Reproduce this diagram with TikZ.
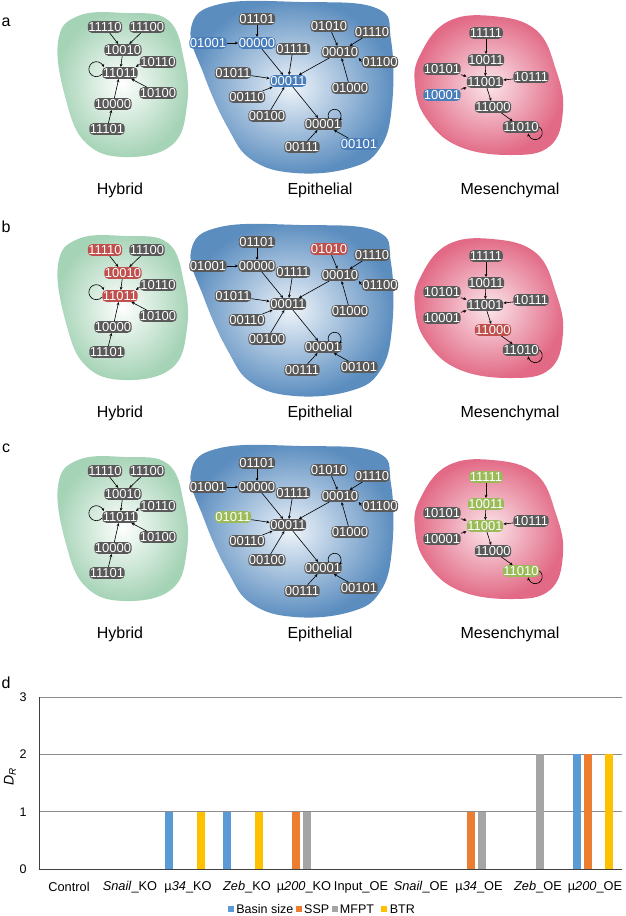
\documentclass[tikz,border=0pt]{standalone}
\usepackage{fontspec}
\setmainfont{Liberation Sans}
\usetikzlibrary{arrows.meta,positioning}

\definecolor{stgray}{HTML}{595959}
\definecolor{stblue}{HTML}{4A7EBB}
\definecolor{stred}{HTML}{C0504D}
\definecolor{stgreen}{HTML}{9BBB59}
\definecolor{blobgreen}{HTML}{A5D3B6}
\definecolor{blobblue}{HTML}{5B8DBF}
\definecolor{blobbluein}{HTML}{EEF4FA}
\definecolor{blobred}{HTML}{E26A86}
\definecolor{blobredin}{HTML}{FBE6EB}
\definecolor{cbasin}{HTML}{5B9BD5}
\definecolor{cssp}{HTML}{ED7D31}
\definecolor{cmfpt}{HTML}{A5A5A5}
\definecolor{cbtr}{HTML}{FFC000}

% One panel of attractor basins (hl<state> styles colour single states)
\newcommand{\stategraph}{%
  % Basins
  \shade[inner color=white, outer color=blobgreen] plot[smooth cycle, tension=0.7] coordinates {(58,42) (78,16) (125,13) (168,20) (184,60) (187,105) (172,145) (125,157) (86,143) (66,100)};
  \shade[inner color=blobbluein, outer color=blobblue] plot[smooth cycle, tension=0.7] coordinates {(191,28) (220,4) (300,2) (376,8) (391,40) (392,105) (380,148) (350,168) (295,173) (252,160) (228,128) (204,75)};
  \shade[inner color=blobredin, outer color=blobred] plot[smooth cycle, tension=0.7] coordinates {(420,55) (447,22) (492,16) (536,30) (556,70) (563,110) (550,146) (510,155) (458,146) (426,118) (415,85)};

  % Hybrid states
  \node[stbox, hl11110/.try] (s11110) at (105,27) {11110};
  \node[stbox, hl11100/.try] (s11100) at (147,27) {11100};
  \node[stbox, hl10010/.try] (s10010) at (123,50) {10010};
  \node[stbox, hl11011/.try] (s11011) at (120,73) {11011};
  \node[stbox, hl10110/.try] (s10110) at (158,62) {10110};
  \node[stbox, hl10100/.try] (s10100) at (158,93) {10100};
  \node[stbox, hl10000/.try] (s10000) at (113,104) {10000};
  \node[stbox, hl11101/.try] (s11101) at (107,129) {11101};

  \draw[arr] (s11110) -- (s10010);
  \draw[arr] (s11100) -- (s10010);
  \draw[arr] (s10010) -- (s11011);
  \draw[arr] ([yshift=-2pt]s10110.west) -- ([xshift=-2pt]s11011.north east);
  \draw[arr] (s10100) -- (s11011);
  \draw[arr] (s10000) -- (s11011);
  \draw[arr] (s11101) -- (s10000);
  \draw[arr] ([yshift=-1pt]s11011.west) arc[start angle=-40, end angle=-345, radius=7.5pt];

  % Epithelial states
  \node[stbox, hl01101/.try] (s01101) at (257,19) {01101};
  \node[stbox, hl01001/.try] (s01001) at (208,43) {01001};
  \node[stbox, hl00000/.try] (s00000) at (257,43) {00000};
  \node[stbox, hl01111/.try] (s01111) at (293,49) {01111};
  \node[stbox, hl01010/.try] (s01010) at (329,26) {01010};
  \node[stbox, hl01110/.try] (s01110) at (372,32) {01110};
  \node[stbox, hl00010/.try] (s00010) at (340,52) {00010};
  \node[stbox, hl01100/.try] (s01100) at (380,62) {01100};
  \node[stbox, hl01011/.try] (s01011) at (233,73) {01011};
  \node[stbox, hl00011/.try] (s00011) at (288,81) {00011};
  \node[stbox, hl00110/.try] (s00110) at (247,97) {00110};
  \node[stbox, hl01000/.try] (s01000) at (350,88) {01000};
  \node[stbox, hl00100/.try] (s00100) at (267,116) {00100};
  \node[stbox, hl00001/.try] (s00001) at (323,124) {00001};
  \node[stbox, hl00111/.try] (s00111) at (302,147) {00111};
  \node[stbox, hl00101/.try] (s00101) at (359,144) {00101};

  \draw[arr] (s01101) -- (s00000);
  \draw[arr] (s01001) -- (s00000);
  \draw[arr] (s00000) -- (s00011);
  \draw[arr] (s01111) -- (s00011);
  \draw[arr] (s01010) -- (s00010);
  \draw[arr] (s01110) -- (s00010);
  \draw[arr] (s01100.west) -- (s00010.south east);
  \draw[arr] (s01000) -- (s00010);
  \draw[arr] (s00010) -- (s00011);
  \draw[arr] (s01011) -- (s00011);
  \draw[arr] (s00110) -- (s00011);
  \draw[arr] (s00100) -- (s00011);
  \draw[arr] (s00011) -- (s00001);
  \draw[arr] (s00111) -- (s00001);
  \draw[arr] (s00101) -- (s00001);
  \draw[arr] ([xshift=5.5pt]s00001.north) arc[start angle=200, end angle=-45, radius=6.5pt];

  % Mesenchymal states
  \node[stbox, hl11111/.try] (s11111) at (486,33) {11111};
  \node[stbox, hl10011/.try] (s10011) at (486,60) {10011};
  \node[stbox, hl10101/.try] (s10101) at (442,69) {10101};
  \node[stbox, hl11001/.try] (s11001) at (485,82) {11001};
  \node[stbox, hl10111/.try] (s10111) at (531,77) {10111};
  \node[stbox, hl10001/.try] (s10001) at (442,95) {10001};
  \node[stbox, hl11000/.try] (s11000) at (493,107) {11000};
  \node[stbox, hl11010/.try] (s11010) at (521,127) {11010};

  \draw[arr] (s11111) -- (s10011);
  \draw[arr] (s10011) -- (s11001);
  \draw[arr] (s10101) -- (s11001);
  \draw[arr] (s10111) -- (s11001);
  \draw[arr] (s10001) -- (s11001);
  \draw[arr] (s11001) -- (s11000);
  \draw[arr] (s11000) -- (s11010);
  \draw[arr] (s11010.east) arc[start angle=54, end angle=-175, radius=7pt];

  % Basin names
  \node[basinlab] (lhyb) at (120,190) {Hybrid};
  \node[basinlab] (lepi) at (320,190) {Epithelial};
  \node[basinlab] (lmes) at (510,190) {Mesenchymal};
}

% one bar of panel d: category, series, value, colour
\newcommand{\drbar}[4]{%
  \fill[#4] ({39+58.3*(#1+0.5)+10.5*(#2-1.5)-4},869) rectangle ++(8,{-57.3*#3});}

\begin{document}
\begin{tikzpicture}[x=1pt, y=-1pt,
  stbox/.style={rounded corners=4pt, fill=stgray, text=white, inner xsep=0.6pt, inner ysep=1.2pt,
    text height=9.2pt, text depth=0pt, font=\fontsize{13}{13}\selectfont},
  arr/.style={-{Stealth[length=3.2pt,width=2.8pt]}, line width=0.6pt},
  basinlab/.style={font=\fontsize{16}{16}\selectfont},
  panellab/.style={font=\fontsize{16}{16}\selectfont},
  catlab/.style={font=\fontsize{12.8}{12.8}\selectfont, inner sep=0pt},
  ticklab/.style={font=\fontsize{12.5}{12.5}\selectfont, inner sep=0pt},
  gridline/.style={draw=black!45, line width=0.8pt},
  lgsq/.style={minimum size=6pt, inner sep=0pt},
  lgtxt/.style={font=\fontsize{12.5}{12.5}\selectfont, inner sep=1pt}]
\useasboundingbox (0,0) rectangle (625,916);

% Panel a: basin sizes
\begin{scope}[name prefix=a-, hl01001/.style={fill=stblue}, hl00000/.style={fill=stblue},
  hl00011/.style={fill=stblue}, hl00101/.style={fill=stblue}, hl10001/.style={fill=stblue}]
  \stategraph
  \node[panellab] (pa) at (6,22) {a};
\end{scope}

% Panel b
\begin{scope}[shift={(0,223)}, name prefix=b-, hl11110/.style={fill=stred}, hl10010/.style={fill=stred},
  hl11011/.style={fill=stred}, hl01010/.style={fill=stred}, hl11000/.style={fill=stred}]
  \stategraph
  \node[panellab] (pb) at (6,4) {b};
\end{scope}

% Panel c
\begin{scope}[shift={(0,444)}, name prefix=c-, hl01011/.style={fill=stgreen}, hl11111/.style={fill=stgreen},
  hl10011/.style={fill=stgreen}, hl11001/.style={fill=stgreen}, hl11010/.style={fill=stgreen}]
  \stategraph
  \node[panellab] (pc) at (6,4) {c};
\end{scope}

% Panel d: D_R per perturbation
\node[panellab] (pd) at (6,683) {d};

% grid lines at 1, 2, 3
\draw[gridline] (39,811.7) -- (622,811.7);
\draw[gridline] (39,754.4) -- (622,754.4);
\draw[gridline] (39,697.1) -- (622,697.1);

% bars (series 0 basin, 1 SSP, 2 MFPT, 3 BTR)
\drbar{2}{0}{1}{cbasin}
\drbar{2}{3}{1}{cbtr}
\drbar{3}{0}{1}{cbasin}
\drbar{3}{3}{1}{cbtr}
\drbar{4}{1}{1}{cssp}
\drbar{4}{2}{1}{cmfpt}
\drbar{7}{1}{1}{cssp}
\drbar{7}{2}{1}{cmfpt}
\drbar{8}{2}{2}{cmfpt}
\drbar{9}{0}{2}{cbasin}
\drbar{9}{1}{2}{cssp}
\drbar{9}{3}{2}{cbtr}

% axes
\draw[black!75, line width=0.8pt] (39,697.1) -- (39,869) -- (622,869);

% y ticks
\node[ticklab] (y0) at (23,869) {0};
\node[ticklab] (y1) at (23,811.7) {1};
\node[ticklab] (y2) at (23,754.4) {2};
\node[ticklab] (y3) at (23,697.1) {3};
\node[rotate=90, font=\fontsize{14}{14}\selectfont] (ylab) at (10,777) {\textit{D}\textsubscript{\textit{R}}};

% categories
\node[catlab] (k0) at (69,887) {Control};
\node[catlab] (k1) at (130,887) {\textit{Snail}\_KO};
\node[catlab] (k2) at (188,887) {µ\textit{34}\_KO};
\node[catlab] (k3) at (247,887) {\textit{Zeb}\_KO};
\node[catlab] (k4) at (304,887) {µ\textit{200}\_KO};
\node[catlab] (k5) at (361,887) {Input\_OE};
\node[catlab] (k6) at (421,887) {\textit{Snail}\_OE};
\node[catlab] (k7) at (479,887) {µ\textit{34}\_OE};
\node[catlab] (k8) at (538,887) {\textit{Zeb}\_OE};
\node[catlab] (k9) at (595,887) {µ\textit{200}\_OE};

% legend
\node[lgsq, fill=cbasin] (kbasin) at (231,909) {};
\node[lgtxt, right=1pt of kbasin] (tbasin) {Basin size};
\node[lgsq, fill=cssp, right=1pt of tbasin] (kssp) {};
\node[lgtxt, right=1pt of kssp] (tssp) {SSP};
\node[lgsq, fill=cmfpt, right=1pt of tssp] (kmfpt) {};
\node[lgtxt, right=1pt of kmfpt] (tmfpt) {MFPT};
\node[lgsq, fill=cbtr, right=6pt of tmfpt] (kbtr) {};
\node[lgtxt, right=1pt of kbtr] (tbtr) {BTR};
\end{tikzpicture}
\end{document}
